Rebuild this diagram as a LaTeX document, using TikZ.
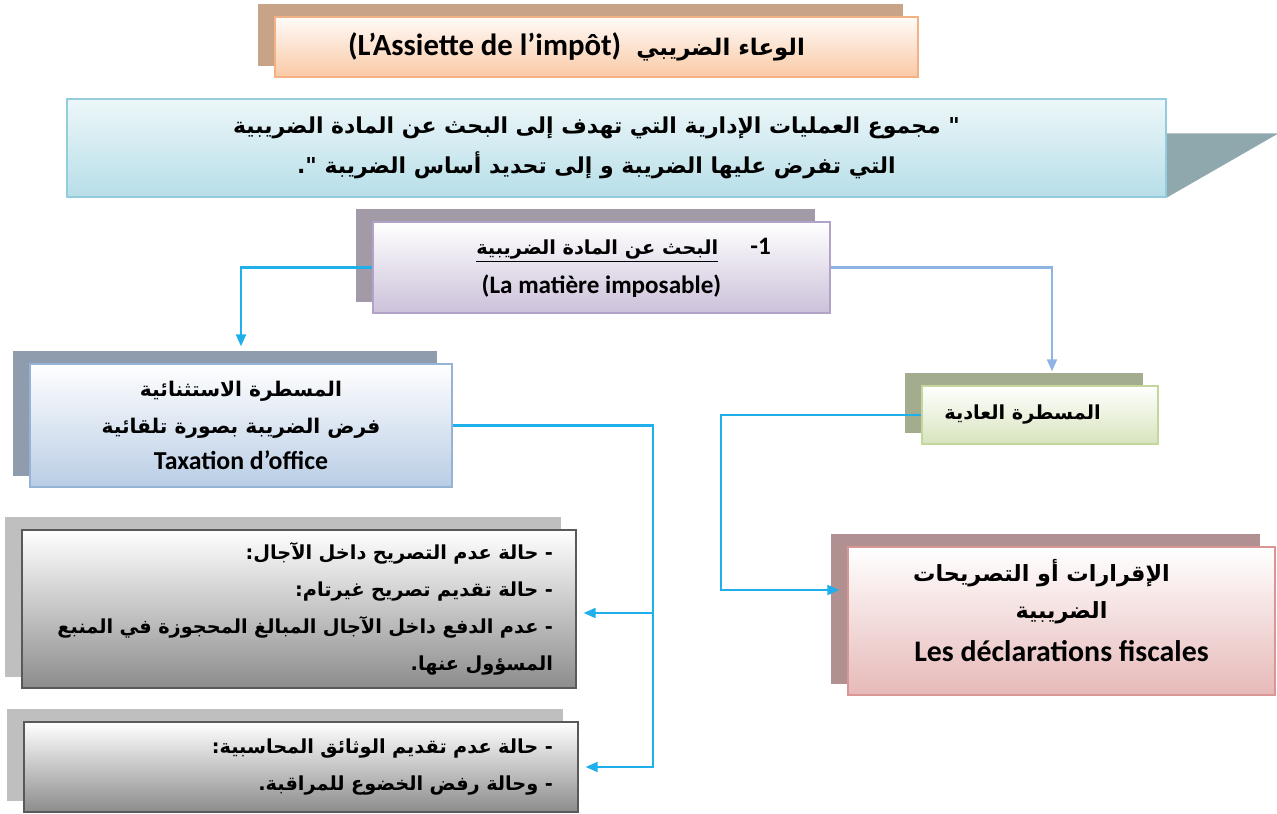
\documentclass[tikz,border=0pt]{standalone}
\usepackage{fontspec}
\setmainfont{Carlito}
\newfontfamily\arabicfont[Script=Arabic]{DejaVu Sans}
\TeXXeTstate=1
\usetikzlibrary{positioning,arrows.meta,backgrounds}

\definecolor{titleback}{HTML}{C8A387}
\definecolor{titlebot}{HTML}{F9C9A5}
\definecolor{titleline}{HTML}{F4B183}
\definecolor{defbot}{HTML}{B7DEE8}
\definecolor{defline}{HTML}{93CDDD}
\definecolor{defside}{HTML}{8FA8AD}
\definecolor{searchback}{HTML}{A29AA6}
\definecolor{searchbot}{HTML}{CCC1DA}
\definecolor{searchline}{HTML}{B3A2C7}
\definecolor{excepback}{HTML}{8E9CAE}
\definecolor{excepbot}{HTML}{B9CDE5}
\definecolor{excepline}{HTML}{95B3D7}
\definecolor{normalback}{HTML}{A4AC8E}
\definecolor{normalbot}{HTML}{D7E4BD}
\definecolor{normalline}{HTML}{C3D69B}
\definecolor{caseback}{HTML}{BFBFBF}
\definecolor{casebot}{HTML}{8C8C8C}
\definecolor{caseline}{HTML}{595959}
\definecolor{declback}{HTML}{B09090}
\definecolor{declbot}{HTML}{E6B9B8}
\definecolor{declline}{HTML}{D99694}
\definecolor{linkblue}{HTML}{1FB0EC}
\definecolor{linkpale}{HTML}{8DB4E2}

\newcommand{\artxt}[1]{{\arabicfont\bfseries\beginR #1\endR}}
\newcommand{\lattxt}[2]{{\fontsize{#1}{#1}\selectfont\bfseries #2}}

\tikzset{
  box/.style={rectangle,draw,line width=0.8pt,inner sep=0pt,align=center},
  link/.style={draw=linkblue,line width=1.2pt,-{Triangle[length=0.24cm,width=0.2cm]}},
}

\begin{document}
\begin{tikzpicture}[x=0.02cm,y=-0.02cm]
  \useasboundingbox (0,0) rectangle (1277,814);
  \begin{scope}[every node/.style={box}]
    \node (title) at (596.5,47) [draw=titleline,top color=titlebot!8,bottom color=titlebot,
      minimum width=12.86cm,minimum height=1.2cm,font=\fontsize{13}{16}\selectfont]
      {\lattxt{17.5}{(L’Assiette de l’impôt)}\hspace{0.3cm}\artxt{الوعاء الضريبي}\hspace*{0.8cm}};
    \node (def) at (616.5,148) [draw=defline,top color=defbot!25,bottom color=defbot,
      minimum width=21.98cm,minimum height=1.96cm,font=\fontsize{12.5}{22.7}\selectfont]
      {\artxt{" مجموع العمليات الإدارية التي تهدف إلى البحث عن المادة الضريبية}\hspace*{0.8cm}\\
       \artxt{التي تفرض عليها الضريبة و إلى تحديد أساس الضريبة ".}\hspace*{0.8cm}};
    \node (search) at (601.5,267.5) [draw=searchline,top color=white,bottom color=searchbot,
      minimum width=9.14cm,minimum height=1.82cm,font=\fontsize{11}{22}\selectfont]
      {\hspace*{0.88cm}\underline{\artxt{البحث عن المادة الضريبية}}\hspace{0.64cm}\lattxt{14.3}{-1}\\
       \lattxt{14.3}{(La matière imposable)}};
    \node (excep) at (241,425.5) [draw=excepline,top color=white,bottom color=excepbot,
      minimum width=8.44cm,minimum height=2.46cm,font=\fontsize{11.5}{21}\selectfont]
      {\artxt{المسطرة الاستثنائية}\\
       \artxt{فرض الضريبة بصورة تلقائية}\\
       \lattxt{14.7}{Taxation d’office}};
    \node (normal) at (1040,415) [draw=normalline,top color=white,bottom color=normalbot,
      minimum width=4.72cm,minimum height=1.16cm,font=\fontsize{11}{20}\selectfont]
      {\artxt{المسطرة العادية}\hspace{0.7cm}};
    \node (caseA) at (299,609) [draw=caseline,top color=white,bottom color=casebot,
      minimum width=11.08cm,minimum height=3.16cm,text width=10.16cm,align=right,
      font=\fontsize{11}{21}\selectfont]
      {\artxt{- حالة عدم التصريح داخل الآجال:}\\
       \artxt{- حالة تقديم تصريح غيرتام:}\\
       \artxt{- عدم الدفع داخل الآجال المبالغ المحجوزة في المنبع}\\
       \artxt{المسؤول عنها.}};
    \node (caseB) at (301,767) [draw=caseline,top color=white,bottom color=casebot,
      minimum width=11.08cm,minimum height=1.8cm,text width=10.08cm,align=right,
      font=\fontsize{11}{21}\selectfont]
      {\artxt{- حالة عدم تقديم الوثائق المحاسبية:}\\
       \artxt{- وحالة رفض الخضوع للمراقبة.}};
    \node (decl) at (1061.5,621) [draw=declline,top color=white,bottom color=declbot,
      minimum width=8.54cm,minimum height=2.96cm,text depth=12pt,
      font=\fontsize{12.7}{22.5}\selectfont]
      {\artxt{الإقرارات أو التصريحات}\hspace*{0.8cm}\\[-1pt]
       \artxt{الضريبية}\hspace*{0.8cm}\\[2pt]
       \lattxt{17}{Les déclarations fiscales}};
  \end{scope}

  % shadows behind the boxes
  \begin{scope}[on background layer]
    \foreach \n/\c in {title/titleback,search/searchback,excep/excepback,
        normal/normalback,caseA/caseback,caseB/caseback,decl/declback}
      \fill[\c] ([shift={(-16,-12)}]\n.north west) rectangle ([shift={(-16,-12)}]\n.south east);
    \fill[defside] ([yshift=-0.7cm]def.north east) -- ++(112,0) -- (def.south east) -- cycle;
  \end{scope}

  % connectors
  \draw[link,shorten >=0.34cm] (search.west) -| (excep.north);
  \draw[link,draw=linkpale,shorten >=0.28cm] (search.east) -| ([xshift=0.24cm]normal.north);
  \draw[link] (excep.east) -- ++(200,0) coordinate (fork) |- ([xshift=0.14cm]caseB.east);
  \draw[link] (fork) |- ([xshift=0.14cm,yshift=-0.08cm]caseA.east);
  \draw[link] (normal.west) -- ++(-200,0) |- ([xshift=-0.16cm,yshift=0.62cm]decl.west);
\end{tikzpicture}
\end{document}
